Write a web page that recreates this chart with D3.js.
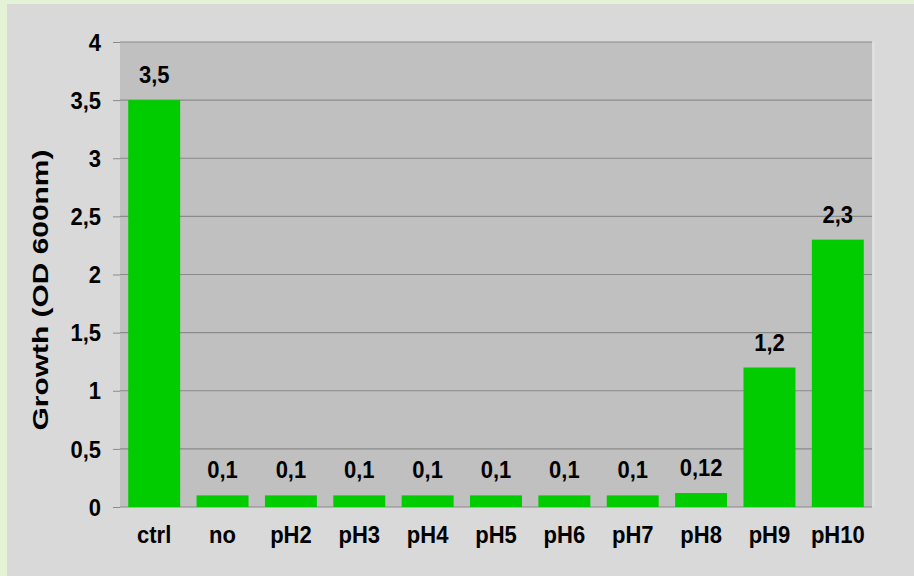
<!DOCTYPE html>
<html>
<head>
<meta charset="utf-8">
<script src="https://cdn.jsdelivr.net/npm/d3@7"></script>
<style>
  body { margin: 0; background: #e4f3d6; }
  svg { display: block; }
  text { font-family: Arial, "Liberation Sans", sans-serif; font-weight: bold; fill: #000; }
</style>
</head>
<body>
<div id="chart"></div>
<script>
const categories = ["ctrl", "no", "pH2", "pH3", "pH4", "pH5", "pH6", "pH7", "pH8", "pH9", "pH10"];
const growth = [3.5, 0.1, 0.1, 0.1, 0.1, 0.1, 0.1, 0.1, 0.12, 1.2, 2.3];
const valueLabels = ["3,5", "0,1", "0,1", "0,1", "0,1", "0,1", "0,1", "0,1", "0,12", "1,2", "2,3"];
const yTicks = [0, 0.5, 1, 1.5, 2, 2.5, 3, 3.5, 4];

let width = 914, height = 576;
let margin = { top: 42, right: 42, bottom: 69, left: 120 };
let innerW = width - margin.left - margin.right;
let innerH = height - margin.top - margin.bottom;
let stretch = 1.1; // text in the picture is a bit taller than wide

let svg = d3.select("#chart").append("svg")
    .attr("width", width)
    .attr("height", height);

// outer panel
svg.append("rect")
    .attr("x", 7).attr("y", 4)
    .attr("width", width - 7).attr("height", height - 4)
    .attr("fill", "#d9d9d9");

let g = svg.append("g")
    .attr("transform", `translate(${margin.left}, ${margin.top})`);

let x = d3.scaleBand()
    .domain(categories)
    .range([0, innerW])
    .paddingInner(0.24)
    .paddingOuter(0.12);

let y = d3.scaleLinear()
    .domain([0, 4])
    .range([innerH, 0]);

// plot area
g.append("rect")
    .attr("width", innerW).attr("height", innerH)
    .attr("fill", "#c0c0c0");
g.append("line")
    .attr("x1", innerW + 1.5).attr("x2", innerW + 1.5)
    .attr("y1", 0).attr("y2", innerH)
    .attr("stroke", "#e2e2e2").attr("stroke-width", 2);

// left ticks
let yAxis = g.append("g")
    .call(d3.axisLeft(y).tickValues(yTicks).tickSize(7).tickPadding(12)
        .tickFormat(d => String(d).replace(".", ",")));
yAxis.select(".domain").remove();
yAxis.selectAll(".tick line").attr("stroke", "#8a8a8a");
yAxis.selectAll(".tick text")
    .style("font-size", "22px")
    .attr("dy", "0.34em")
    .attr("transform", `scale(1, ${stretch})`);

// gridlines
g.append("g").selectAll("line")
    .data(yTicks)
    .enter().append("line")
    .attr("x1", 0).attr("x2", innerW)
    .attr("y1", d => y(d)).attr("y2", d => y(d))
    .attr("stroke", "#8a8a8a").attr("stroke-width", 1.2);

// bars
g.selectAll(".bar")
    .data(growth)
    .enter().append("rect")
    .attr("class", "bar")
    .attr("x", (d, i) => x(categories[i]))
    .attr("y", d => y(d))
    .attr("width", x.bandwidth())
    .attr("height", d => innerH - y(d))
    .attr("fill", "#00cc00");

// value labels
g.selectAll(".val")
    .data(growth)
    .enter().append("text")
    .attr("class", "val")
    .attr("transform", (d, i) =>
        `translate(${x(categories[i]) + x.bandwidth() / 2}, ${y(d) - 17}) scale(1, ${stretch})`)
    .attr("text-anchor", "middle")
    .style("font-size", "22px")
    .text((d, i) => valueLabels[i]);

// category labels
g.selectAll(".cat")
    .data(categories)
    .enter().append("text")
    .attr("class", "cat")
    .attr("transform", d =>
        `translate(${x(d) + x.bandwidth() / 2}, ${innerH + 36}) scale(1, ${stretch})`)
    .attr("text-anchor", "middle")
    .style("font-size", "22px")
    .text(d => d);

// y axis title
svg.append("text")
    .attr("transform", "translate(48, 290) rotate(-90) scale(1.36, 1)")
    .attr("text-anchor", "middle")
    .style("font-size", "22px")
    .text("Growth (OD 600nm)");
</script>
</body>
</html>
